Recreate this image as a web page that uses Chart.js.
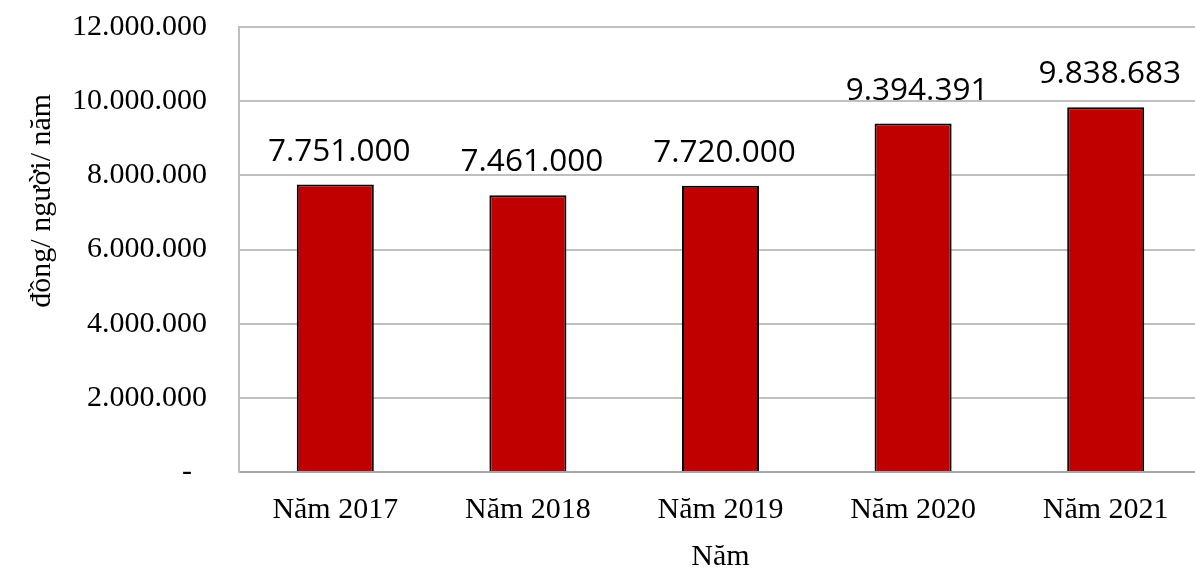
<!DOCTYPE html>
<html>
<head>
<meta charset="utf-8">
<script src="https://cdn.jsdelivr.net/npm/chart.js@4"></script>
<style>
  body { margin: 0; background: #fff; }
  #wrap { width: 1195px; height: 573px; overflow: hidden; }
</style>
</head>
<body>
<div id="wrap"><canvas id="chart" width="1202" height="573"></canvas></div>
<script>
// chart data
const years = ['Năm 2017', 'Năm 2018', 'Năm 2019', 'Năm 2020', 'Năm 2021'];
const income = [7751000, 7461000, 7720000, 9394391, 9838683];
const yTicks = [0, 2000000, 4000000, 6000000, 8000000, 10000000, 12000000];

// 12000000 -> 12.000.000, 0 -> "-"
function fmt(v) {
    if (v === 0) return '-  ';
    return String(Math.round(v)).replace(/\B(?=(\d{3})+(?!\d))/g, '.');
}

// draws value above each bar
const valueLabels = {
    id: 'valueLabels',
    afterDatasetsDraw(chart) {
        const c = chart.ctx;
        const meta = chart.getDatasetMeta(0);
        c.save();
        c.font = '31.5px "Open Sans"';
        c.fillStyle = '#000';
        c.textAlign = 'center';
        c.textBaseline = 'alphabetic';
        meta.data.forEach((bar, i) => {
            c.fillText(fmt(income[i]), bar.x + 4, bar.y - 24);
        });
        c.restore();
    }
};

const serif = 'Liberation Serif';

const ctx = document.getElementById('chart').getContext('2d');
new Chart(ctx, {
    type: 'bar',
    data: {
        labels: years,
        datasets: [{
            data: income,
            backgroundColor: '#c00000',
            borderColor: '#000',
            borderWidth: 2,
            categoryPercentage: 1,
            barPercentage: 0.4
        }]
    },
    options: {
        responsive: false,
        animation: false,
        layout: { padding: { left: 24, top: 27, right: 0, bottom: 8 } },
        plugins: {
            legend: { display: false },
            tooltip: { enabled: false }
        },
        scales: {
            x: {
                grid: { display: false, drawTicks: false },
                border: { color: '#a6a6a6', width: 2 },
                ticks: { color: '#000', font: { family: serif, size: 30 }, padding: 20 },
                title: { display: true, text: 'Năm', color: '#000', font: { family: serif, size: 30 }, padding: { top: -9, bottom: -10 } }
            },
            y: {
                min: 0,
                max: 12000000,
                afterBuildTicks(axis) {
                    axis.ticks = yTicks.map(v => ({ value: v }));
                },
                afterFit(axis) {
                    axis.paddingTop = 0;
                    axis.paddingBottom = 0;
                },
                grid: { color: '#bfbfbf', lineWidth: 2, drawTicks: false },
                border: { color: '#bfbfbf', width: 2 },
                ticks: {
                    color: '#000',
                    font: { family: serif, size: 30 },
                    padding: 32,
                    callback: v => fmt(v)
                },
                // leading spaces push the rotated text up, as in the original
                title: { display: true, text: ' '.repeat(13) + 'đồng/ người/ năm', color: '#000', font: { family: serif, size: 30 }, padding: { top: 0, bottom: -20 } }
            }
        }
    },
    plugins: [valueLabels]
});
</script>
</body>
</html>
